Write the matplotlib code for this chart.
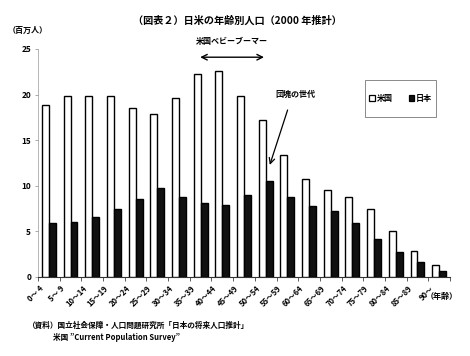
import matplotlib
matplotlib.use("Agg")
import matplotlib.pyplot as plt
import matplotlib.transforms as mtransforms
from matplotlib.patches import Patch, Rectangle
import numpy as np

plt.rcParams['font.family'] = ['Noto Sans CJK JP', 'DejaVu Sans']

# age groups and population (millions, 2000 estimate)
age_groups = ["0～ 4", "5～ 9", "10～14", "15～19", "20～24", "25～29", "30～34",
              "35～39", "40～44", "45～49", "50～54", "55～59", "60～64", "65～69",
              "70～74", "75～79", "80～84", "85～89", "90～"]
usa = [18.9, 19.8, 19.9, 19.9, 18.5, 17.9, 19.6, 22.3, 22.6, 19.9,
       17.2, 13.4, 10.7, 9.5, 8.8, 7.5, 5.0, 2.8, 1.3]
japan = [5.95, 6.05, 6.6, 7.5, 8.5, 9.8, 8.8, 8.15, 7.85, 9.0,
         10.5, 8.8, 7.8, 7.2, 5.95, 4.2, 2.7, 1.6, 0.65]

fig = plt.figure(figsize=(4.7, 3.56), dpi=100)
ax = fig.add_axes([38/470, 1-277/356, 412/470, 228/356])

x = np.arange(len(age_groups))
w = 0.32
ax.bar(x - w/2, usa, w, color="white", edgecolor="black", linewidth=1.0, zorder=3)
ax.bar(x + w/2, japan, w, color="#111111", edgecolor="black", linewidth=1.0, zorder=3)

ax.set_xlim(-0.5, len(age_groups) - 0.5)
ax.set_ylim(0, 25)
ax.set_yticks([0, 5, 10, 15, 20, 25])
ax.tick_params(axis="y", labelsize=6, length=2, width=0.5, color="#888888", pad=3)
for lb in ax.get_yticklabels():
    lb.set_fontweight("bold")

ax.set_xticks(x)
ax.set_xticklabels(age_groups, rotation=45, ha="right", va="top",
                   rotation_mode="anchor", fontsize=5.5, fontweight="bold")
ax.set_xticks(np.arange(-0.5, len(age_groups)), minor=True)
ax.tick_params(axis="x", which="major", length=0, pad=0)
ax.tick_params(axis="x", which="minor", length=3, width=0.6, color="#444444")
offset = mtransforms.ScaledTranslation(-0.10, -0.07, fig.dpi_scale_trans)
for lb in ax.get_xticklabels():
    lb.set_transform(lb.get_transform() + offset)

for s in ["top", "right"]:
    ax.spines[s].set_visible(False)
ax.spines["left"].set_color("#999999")
ax.spines["left"].set_linewidth(0.5)
ax.spines["bottom"].set_color("#333333")
ax.spines["bottom"].set_linewidth(0.8)

# annotations
ax.annotate("", xy=(6.85, 24.1), xytext=(10.05, 24.1), annotation_clip=False,
            arrowprops=dict(arrowstyle="<->", lw=1.0, color="black"))
ax.text(8.45, 25.8, "米国ベビーブーマー", ha="center", va="center",
        fontsize=5.8, fontweight="bold", clip_on=False)
ax.text(11.35, 20.0, "団塊の世代", ha="center", va="center",
        fontsize=5.8, fontweight="bold")
ax.annotate("", xy=(10.15, 12.0), xytext=(11.05, 18.6),
            arrowprops=dict(arrowstyle="->", lw=0.9, color="black"))

# legend with separate frame
fig.patches.append(Rectangle((365/470, 1-117/356), 71/470, 37/356,
                             transform=fig.transFigure, fill=False,
                             edgecolor="#777777", linewidth=0.6))
handles = [Patch(facecolor="white", edgecolor="black", linewidth=0.9, label="米国"),
           Patch(facecolor="#111111", edgecolor="black", linewidth=0.9, label="日本")]
leg = fig.legend(handles=handles, loc="center", bbox_to_anchor=(400.5/470, 1-98.5/356),
                 ncol=2, frameon=False, handlelength=0.7, handleheight=0.7,
                 handletextpad=0.2, columnspacing=2.0,
                 prop={"size": 5.8, "weight": "bold"})

fig.text(237/470, 1-21/356, "（図表２）日米の年齢別人口（2000 年推計）",
         ha="center", va="center", fontsize=7.3, fontweight="bold")
fig.text(28/470, 1-30/356, "（百万人）", ha="center", va="center",
         fontsize=5.8, fontweight="bold")
fig.text(442/470, 1-296/356, "（年齢）", ha="center", va="center",
         fontsize=5.8, fontweight="bold")
fig.text(28/470, 1-325/356, "（資料）国立社会保障・人口問題研究所「日本の将来人口推計」",
         ha="left", va="center", fontsize=5.5, fontweight="bold")
fig.text(53/470, 1-338/356, "米国 \u201dCurrent Population Survey\u201d",
         ha="left", va="center", fontsize=5.5, fontweight="bold")

fig.savefig("out.png", dpi=100)
